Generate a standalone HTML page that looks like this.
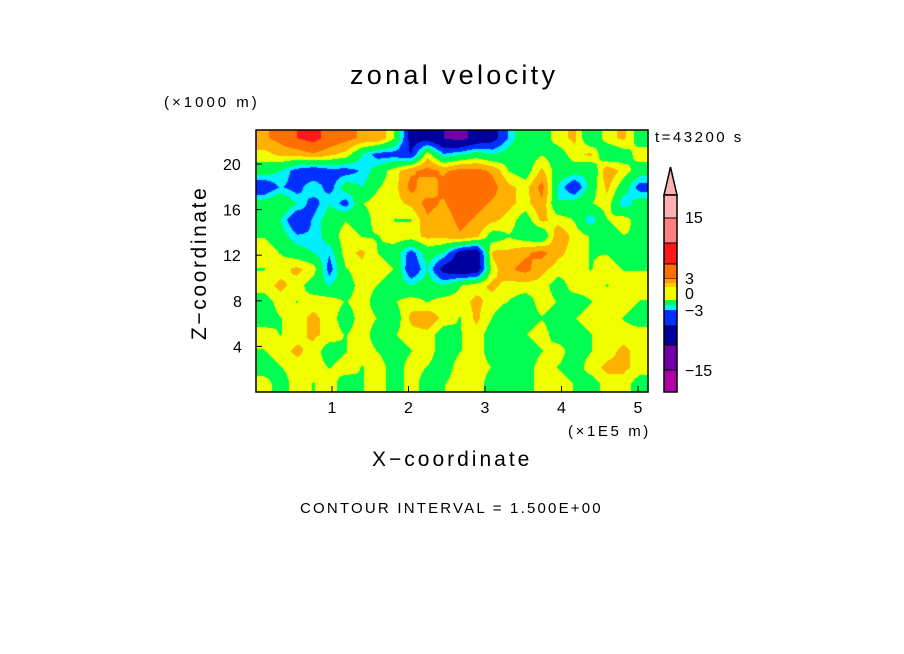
<!DOCTYPE html>
<html><head><meta charset="utf-8"><style>
body{margin:0;background:#fff;}
#wrap{position:relative;width:904px;height:654px;overflow:hidden;font-family:"Liberation Sans",sans-serif;color:#000;}
.t{position:absolute;white-space:nowrap;}
</style></head><body>
<div id="wrap">
<div class="t" style="left:350px;top:60px;font-size:27px;letter-spacing:3.3px;">zonal velocity</div>
<div class="t" style="left:164px;top:94px;font-size:15px;letter-spacing:3px;">(×1000 m)</div>
<div class="t" style="left:655px;top:129px;font-size:15px;letter-spacing:2.5px;">t=43200 s</div>
<div class="t" style="left:568px;top:423px;font-size:15px;letter-spacing:2.6px;">(×1E5 m)</div>
<div class="t" style="left:372px;top:448px;font-size:21px;letter-spacing:3px;">X−coordinate</div>
<div class="t" style="left:188px;top:340px;font-size:21px;letter-spacing:2.6px;transform:rotate(-90deg);transform-origin:0 0;">Z−coordinate</div>
<div class="t" style="left:300px;top:500px;font-size:15px;letter-spacing:2.2px;">CONTOUR INTERVAL = 1.500E+00</div>
<canvas id="plot" width="392" height="262" style="position:absolute;left:256px;top:130px;"></canvas>
<svg id="svg" width="904" height="654" style="position:absolute;left:0;top:0;"></svg>
</div>
<script>
const xTicks=[1,2,3,4,5];
const zTicks=[4,8,12,16,20];
const cbLevels=[15,3,0,-3,-15];
const cbColors=["#ffb0b0","#ff8080","#ff1818","#ff7000","#ffa000","#ffc800","#f0ff00","#f0ff00","#00ff50","#00f0ff","#0030ff","#0000a0","#7000a8","#b000a8","#e800b0"];
const field=[
[3,4,6,7,5,4,3,3,0,-6,-6,-8,-9,-7,-6,-3,0,-1,1,2,-2,1,2,-1],
[1,2,2,3,2,1,-2,-4,-4,-5,1,-3,-2,-1,-2,-1,-1,0,-1,1,2,-2,-1,1],
[-1,-2,-4,-5,-4,-4,-3,-1,1,3,4,3,4,4,3,0,-1,2,-1,-1,-2,3,1,-1],
[-5,-3,-4,-2,-4,-1,-2,0,1,4,2,4,5,5,4,2,1,4,-2,-5,-1,2,-1,-4],
[-1,0,-2,-4,-2,-4,0,1,1,2,4,3,5,4,3,2,1,3,-2,-1,0,1,-3,-1],
[-2,-2,-5,-3,-1,0,-1,1,0,0,3,2,4,3,2,1,-1,2,1,0,-3,0,1,-1],
[0,-1,-3,-3,-1,1,0,0,1,1,2,2,3,2,-1,0,-1,-2,3,1,0,-1,0,0],
[1,0,-1,-2,-3,1,2,0,-1,-4,-1,-2,-6,-7,2,2,3,4,2,1,0,0,-1,0],
[0,1,2,1,-4,0,1,1,0,-5,-2,-6,-7,-7,1,3,4,2,1,1,0,1,0,0],
[1,2,1,-1,-2,-1,1,0,-1,-2,-1,-2,0,1,2,1,1,1,-1,1,1,0,1,1],
[-1,1,0,1,1,0,1,-1,0,1,0,1,1,2,1,0,-1,1,0,-1,0,1,1,0],
[-1,0,1,2,1,-1,1,0,-1,2,3,1,0,2,0,-2,-1,0,-1,0,1,1,0,-1],
[1,0,1,2,1,0,1,-1,0,1,1,-1,0,1,-1,-2,0,1,-1,-1,0,1,1,1],
[0,1,2,1,-1,0,1,0,-1,0,1,-1,0,1,-1,-2,-1,0,1,-1,0,1,2,1],
[-1,0,1,1,0,1,0,1,-1,1,0,-1,1,1,0,-1,-1,1,0,-1,1,2,2,1],
[1,-1,1,0,1,-1,0,1,-1,1,-1,0,1,1,-1,-2,-1,1,1,0,-1,1,1,-1]
];
const PX0=256,PX1=648,PY0=130,PY1=392;
function xs(v){return 255.5+(v)*76.5;}
function zs(v){return 392-v*11.4;}
function colorOf(v){
 if(v>=6)return[255,24,24];if(v>=3.3)return[255,112,0];if(v>=1.6)return[255,176,0];
 if(v>=0.1)return[240,255,0];if(v>=-2)return[0,255,80];if(v>=-3.2)return[0,240,255];
 if(v>=-5)return[0,48,255];if(v>=-8)return[0,0,160];return[112,0,168];}
(function(){
 const c=document.getElementById('plot').getContext('2d');
 const W=392,H=262,img=c.createImageData(W,H);
 const R=field.length,C=field[0].length;
 for(let y=0;y<H;y++)for(let x=0;x<W;x++){
  const fx=Math.min(C-1.001,Math.max(0,(x+0.5)/W*C-0.5)),fy=Math.min(R-1.001,Math.max(0,(y+0.5)/H*R-0.5));
  const i=Math.floor(fx),j=Math.floor(fy),a=fx-i,b=fy-j;
  const v=field[j][i]*(1-a)*(1-b)+field[j][i+1]*a*(1-b)+field[j+1][i]*(1-a)*b+field[j+1][i+1]*a*b;
  const col=colorOf(v),k=(y*W+x)*4;
  img.data[k]=col[0];img.data[k+1]=col[1];img.data[k+2]=col[2];img.data[k+3]=255;}
 c.putImageData(img,0,0);
})();
const NS="http://www.w3.org/2000/svg",svg=document.getElementById('svg');
function mk(t,a){const e=document.createElementNS(NS,t);for(const k in a)e.setAttribute(k,a[k]);svg.appendChild(e);return e;}
let fr=mk('rect',{x:PX0,y:PY0,width:PX1-PX0,height:PY1-PY0,fill:'none',stroke:'#000','stroke-width':1.5});


xTicks.forEach(v=>{
 const l=mk('line',{x1:xs(v),x2:xs(v),y1:PY1,y2:PY1-6,stroke:'#000'});
 
 
 const t=mk('text',{x:xs(v),y:413,'font-size':16,'text-anchor':'middle','font-family':'Liberation Sans'});t.textContent=v;
 
 
});
zTicks.forEach(v=>{
 const l=mk('line',{x1:PX0,x2:PX0+6,y1:zs(v),y2:zs(v),stroke:'#000'});
 
 
 const t=mk('text',{x:v>=10?223:233,y:zs(v)+6,'font-size':16,'font-family':'Liberation Sans'});t.textContent=v;
 
 
});
const cbTop=195,cbBot=392,cx0=664,cw=13;
const cbEdges=[195,218,243,264,279,283,287,291,300,305,310,326,345,370,392];
let ar=mk('polygon',{points:`${cx0},${cbTop} ${cx0+cw},${cbTop} ${cx0+cw/2},167`,fill:'#ffb0b0',stroke:'#000','stroke-width':1.5});


for(let i=0;i<cbColors.length;i++){
 const y0=cbEdges[i],y1=cbEdges[i+1]||cbBot;
 const r=mk('rect',{x:cx0,y:y0,width:cw,height:y1-y0,fill:cbColors[i],stroke:i<4||i>10?'#000':'none','stroke-width':1});
 
 
}
let cf=mk('rect',{x:cx0,y:cbTop,width:cw,height:cbBot-cbTop,fill:'none',stroke:'#000','stroke-width':1.5});


const cbY={"15":223,"3":284,"0":299,"-3":316,"-15":376};
cbLevels.forEach(v=>{
 const t=mk('text',{x:685,y:cbY[String(v)],'font-size':16,'font-family':'Liberation Sans'});t.textContent=v<0?'−'+(-v):v;
 
 
});
</script>
</body></html>
